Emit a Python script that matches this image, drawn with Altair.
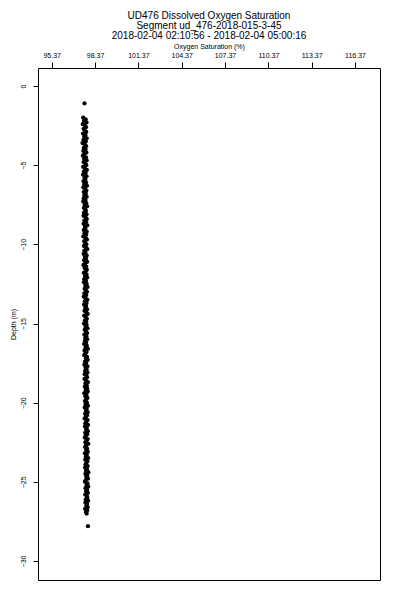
import altair as alt
import pandas as pd

title_lines = [
    "UD476 Dissolved Oxygen Saturation",
    "Segment ud_476-2018-015-3-45",
    "2018-02-04 02:10:56 - 2018-02-04 05:00:16",
]
x_title = "Oxygen Saturation (%)"
y_title = "Depth (m)"
x_ticks = [95.37, 98.37, 101.37, 104.37, 107.37, 110.37, 113.37, 116.37]
y_ticks = [0, -5, -10, -15, -20, -25, -30]

depth = [
    -1.1,
    -2.0, -2.1, -2.2, -2.3, -2.4, -2.5, -2.6, -2.7, -2.8, -2.9,
    -3.0, -3.1, -3.2, -3.3, -3.4, -3.5, -3.6, -3.7, -3.8, -3.9,
    -4.0, -4.1, -4.2, -4.3, -4.4, -4.5, -4.6, -4.7, -4.8, -4.9,
    -5.0, -5.1, -5.2, -5.3, -5.4, -5.5, -5.6, -5.7, -5.8, -5.9,
    -6.0, -6.1, -6.2, -6.3, -6.4, -6.5, -6.6, -6.7, -6.8, -6.9,
    -7.0, -7.1, -7.2, -7.3, -7.4, -7.5, -7.6, -7.7, -7.8, -7.9,
    -8.0, -8.1, -8.2, -8.3, -8.4, -8.5, -8.6, -8.7, -8.8, -8.9,
    -9.0, -9.1, -9.2, -9.3, -9.4, -9.5, -9.6, -9.7, -9.8, -9.9,
    -10.0, -10.1, -10.2, -10.3, -10.4, -10.5, -10.6, -10.7, -10.8, -10.9,
    -11.0, -11.1, -11.2, -11.3, -11.4, -11.5, -11.6, -11.7, -11.8, -11.9,
    -12.0, -12.1, -12.2, -12.3, -12.4, -12.5, -12.6, -12.7, -12.8, -12.9,
    -13.0, -13.1, -13.2, -13.3, -13.4, -13.5, -13.6, -13.7, -13.8, -13.9,
    -14.0, -14.1, -14.2, -14.3, -14.4, -14.5, -14.6, -14.7, -14.8, -14.9,
    -15.0, -15.1, -15.2, -15.3, -15.4, -15.5, -15.6, -15.7, -15.8, -15.9,
    -16.0, -16.1, -16.2, -16.3, -16.4, -16.5, -16.6, -16.7, -16.8, -16.9,
    -17.0, -17.1, -17.2, -17.3, -17.4, -17.5, -17.6, -17.7, -17.8, -17.9,
    -18.0, -18.1, -18.2, -18.3, -18.4, -18.5, -18.6, -18.7, -18.8, -18.9,
    -19.0, -19.1, -19.2, -19.3, -19.4, -19.5, -19.6, -19.7, -19.8, -19.9,
    -20.0, -20.1, -20.2, -20.3, -20.4, -20.5, -20.6, -20.7, -20.8, -20.9,
    -21.0, -21.1, -21.2, -21.3, -21.4, -21.5, -21.6, -21.7, -21.8, -21.9,
    -22.0, -22.1, -22.2, -22.3, -22.4, -22.5, -22.6, -22.7, -22.8, -22.9,
    -23.0, -23.1, -23.2, -23.3, -23.4, -23.5, -23.6, -23.7, -23.8, -23.9,
    -24.0, -24.1, -24.2, -24.3, -24.4, -24.5, -24.6, -24.7, -24.8, -24.9,
    -25.0, -25.1, -25.2, -25.3, -25.4, -25.5, -25.6, -25.7, -25.8, -25.9,
    -26.0, -26.1, -26.2, -26.3, -26.4, -26.5, -26.6, -26.7, -26.8, -26.9,
    -27.0,
    -27.8,
]
oxygen = [
    97.64,
    97.55, 97.72, 97.60, 97.78, 97.52, 97.68, 97.74, 97.58, 97.66, 97.76,
    97.54, 97.70, 97.62, 97.79, 97.57, 97.73, 97.50, 97.67, 97.75, 97.59,
    97.71, 97.56, 97.77, 97.63, 97.53, 97.74, 97.61, 97.79, 97.58, 97.69,
    97.76, 97.55, 97.66, 97.80, 97.60, 97.72, 97.54, 97.78, 97.64, 97.70,
    97.57, 97.75, 97.62, 97.81, 97.56, 97.68, 97.77, 97.59, 97.73, 97.63,
    97.79, 97.58, 97.71, 97.55, 97.76, 97.65, 97.82, 97.60, 97.69, 97.74,
    97.61, 97.78, 97.57, 97.72, 97.80, 97.63, 97.75, 97.58, 97.83, 97.67,
    97.70, 97.59, 97.79, 97.64, 97.76, 97.56, 97.73, 97.81, 97.62, 97.68,
    97.77, 97.60, 97.74, 97.84, 97.63, 97.70, 97.58, 97.79, 97.66, 97.75,
    97.61, 97.82, 97.69, 97.57, 97.76, 97.64, 97.80, 97.72, 97.59, 97.78,
    97.67, 97.83, 97.62, 97.74, 97.60, 97.79, 97.70, 97.85, 97.65, 97.73,
    97.81, 97.63, 97.76, 97.59, 97.72, 97.84, 97.66, 97.78, 97.61, 97.75,
    97.69, 97.82, 97.64, 97.77, 97.86, 97.62, 97.73, 97.80, 97.67, 97.76,
    97.60, 97.79, 97.71, 97.85, 97.65, 97.74, 97.82, 97.63, 97.77, 97.69,
    97.83, 97.66, 97.75, 97.61, 97.80, 97.72, 97.87, 97.64, 97.78, 97.70,
    97.62, 97.81, 97.73, 97.86, 97.67, 97.76, 97.63, 97.84, 97.71, 97.79,
    97.68, 97.85, 97.65, 97.77, 97.82, 97.64, 97.74, 97.88, 97.70, 97.80,
    97.66, 97.83, 97.72, 97.87, 97.63, 97.78, 97.69, 97.84, 97.75, 97.67,
    97.81, 97.71, 97.88, 97.65, 97.79, 97.74, 97.86, 97.68, 97.82, 97.73,
    97.64, 97.85, 97.77, 97.70, 97.89, 97.67, 97.80, 97.75, 97.87, 97.69,
    97.83, 97.72, 97.66, 97.86, 97.78, 97.70, 97.90, 97.74, 97.68, 97.82,
    97.76, 97.87, 97.67, 97.80, 97.73, 97.89, 97.69, 97.84, 97.77, 97.71,
    97.86, 97.68, 97.81, 97.74, 97.91, 97.70, 97.83, 97.76, 97.88, 97.72,
    97.67, 97.85, 97.78, 97.90, 97.71, 97.82, 97.75, 97.87, 97.69, 97.80,
    97.84, 97.73, 97.89, 97.70, 97.81, 97.76, 97.86, 97.68, 97.83, 97.74,
    97.79,
    97.88,
]

df = pd.DataFrame({"depth": depth, "oxygen": oxygen})
font = "Liberation Sans"

chart = alt.Chart(df).mark_circle(size=18, color="black", opacity=1).encode(
    x=alt.X(
        "oxygen:Q",
        scale=alt.Scale(domain=[94.42, 118.1], nice=False, zero=False),
        axis=alt.Axis(
            orient="top", values=x_ticks, format=".2f", title=x_title,
            grid=False, domain=False, tickSize=6, tickColor="black", tickWidth=1,
            labelFontSize=7, labelPadding=4, labelColor="black", labelFont=font,
            labelOverlap=False, labelFlush=False,
            titleFontSize=7, titleFontWeight="normal", titleColor="black",
            titleFont=font, titlePadding=2,
        ),
    ),
    y=alt.Y(
        "depth:Q",
        scale=alt.Scale(domain=[-31.2, 1.14], nice=False, zero=False),
        axis=alt.Axis(
            values=y_ticks, format="d", title=y_title,
            grid=False, domain=False, tickSize=5, tickColor="black", tickWidth=1,
            labelFontSize=7, labelPadding=7, labelColor="black", labelFont=font,
            labelAngle=270, labelAlign="center", labelBaseline="bottom",
            labelOverlap=False, labelFlush=False,
            titleFontSize=7, titleFontWeight="normal", titleColor="black",
            titleFont=font, titlePadding=3,
        ),
    ),
).properties(
    width=342,
    height=512,
    autosize="none",
    padding={"left": 30, "top": 60, "right": 12, "bottom": 12},
    title=alt.TitleParams(
        text=title_lines[0],
        subtitle=title_lines[1:],
        font=font, fontSize=10, fontWeight="normal", color="black",
        subtitleFont=font, subtitleFontSize=10, subtitleColor="black",
        subtitleFontWeight="normal", subtitlePadding=0, subtitleLineHeight=10,
        lineHeight=10, anchor="middle", offset=1,
    ),
).configure_view(stroke="black", strokeWidth=1)

chart.save("out.html", embed_options={"renderer": "svg", "actions": False})
